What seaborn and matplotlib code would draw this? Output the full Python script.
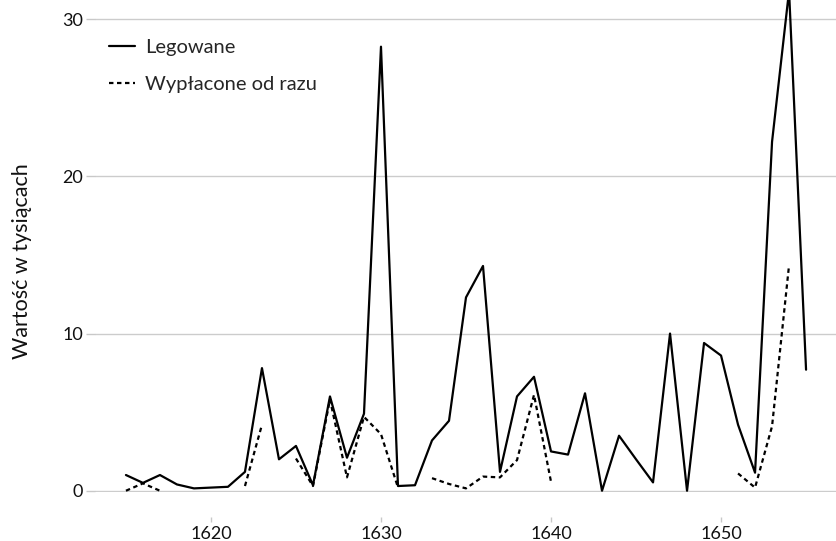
import matplotlib
matplotlib.use("Agg")
import matplotlib.pyplot as plt
import numpy as np
import pandas as pd
import seaborn as sns

# data (values in thousands)
years = list(range(1615, 1656))
legowane = [
    1.0, 0.5, 1.0, 0.4, 0.15, 0.2, 0.25, 1.2, 7.8, 2.0,
    2.85, 0.35, 6.0, 2.1, 4.9, 28.25, 0.3, 0.35, 3.2, 4.45,
    12.3, 14.3, 1.2, 6.0, 7.25, 2.5, 2.3, 6.2, 0.0, 3.5,
    2.0, 0.53, 10.0, 0.0, 9.4, 8.6, 4.2, 1.15, 22.2, 31.8,
    7.7,
]
nan = np.nan
wyplacone = [
    0.0, 0.47, 0.0, nan, nan, nan, nan, 0.3, 4.2, nan,
    2.05, 0.3, 5.8, 0.85, 4.7, 3.6, 0.2, nan, 0.8, 0.43,
    0.15, 0.9, 0.85, 1.95, 6.1, 0.57, nan, nan, nan, nan,
    nan, nan, nan, nan, nan, nan, 1.1, 0.2, 4.1, 14.35,
    nan,
]
series_names = ["Legowane", "Wypłacone od razu"]
y_ticks = [0, 10, 20, 30]
x_ticks = [1620, 1630, 1640, 1650]

# long table; gaps in a series become separate units so lines break there
rows = []
seg = 0
for name, vals in zip(series_names, [legowane, wyplacone]):
    prev_nan = True
    for yr, v in zip(years, vals):
        if np.isnan(v):
            prev_nan = True
            continue
        if prev_nan:
            seg += 1
            prev_nan = False
        rows.append({"rok": yr, "wartosc": v, "seria": name, "odcinek": seg})
df = pd.DataFrame(rows)

sns.set_style("white")
plt.rcParams["font.family"] = ["Lato", "DejaVu Sans"]

fig = plt.figure(figsize=(8.37, 5.41), dpi=100)
ax = fig.add_axes([95 / 837, 0.09, 742 / 837, 0.91])

sns.lineplot(
    data=df,
    x="rok",
    y="wartosc",
    style="seria",
    style_order=series_names,
    units="odcinek",
    estimator=None,
    color="black",
    linewidth=1.6,
    dashes={"Legowane": "", "Wypłacone od razu": (2, 1.6)},
    ax=ax,
)

ax.set_xlim(1613.18, 1656.82)
ax.set_ylim(-0.1, 31.22)
ax.set_xticks(x_ticks)
ax.set_yticks(y_ticks)
ax.grid(axis="y", color="#cccccc", linewidth=1.0)
ax.set_axisbelow(True)
for s in ["top", "right", "left"]:
    ax.spines[s].set_visible(False)
ax.spines["bottom"].set_position(("outward", 17.5))
ax.spines["bottom"].set_visible(False)
ax.tick_params(axis="x", length=3.6, width=1.0, color="#c8c8c8", pad=3,
               labelsize=13, labelcolor="#111111", bottom=True)
ax.tick_params(axis="y", length=6.5, width=1.0, color="#c8c8c8", pad=2,
               labelsize=13, labelcolor="#111111", left=True)

ax.set_xlabel("")
ax.set_ylabel("Wartość w tysiącach", fontsize=15.5, color="#111111")
ax.yaxis.set_label_coords(-0.085, 0.47)

leg = ax.legend(
    loc="upper left",
    bbox_to_anchor=(-0.006, 0.958),
    frameon=False,
    fontsize=14.5,
    handlelength=1.3,
    handletextpad=0.5,
    labelspacing=1.0,
    title=None,
)
for h in leg.get_lines():
    h.set_linewidth(1.6)
    h.set_color("black")

fig.savefig("out.png", dpi=100)
